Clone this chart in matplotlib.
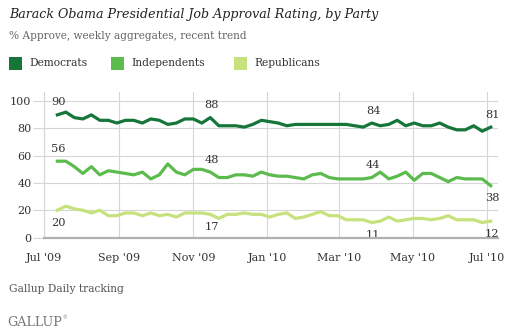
import matplotlib
matplotlib.use("Agg")
import matplotlib.pyplot as plt
from matplotlib.patches import Rectangle
import pandas as pd

# weekly aggregates, week ending Sunday
weeks = pd.date_range("2009-07-12", periods=52, freq="7D")

democrats = [90, 92, 88, 87, 90, 86, 86, 84, 86, 86, 84, 87, 86,
             83, 84, 87, 87, 84, 88, 82, 82, 82, 81, 83,
             86, 85, 84, 82, 83, 83, 83, 83, 83, 83, 83, 82, 81,
             84, 82, 83, 86, 82, 84, 82, 82, 84, 81, 79, 79, 82, 78, 81]
independents = [56, 56, 52, 47, 52, 46, 49, 48, 47, 46, 48, 43, 46,
                54, 48, 46, 50, 50, 48, 44, 44, 46, 46, 45,
                48, 46, 45, 45, 44, 43, 46, 47, 44, 43, 43, 43, 43, 44, 48,
                43, 45, 48, 42, 47, 47, 44, 41, 44, 43, 43, 43, 38]
republicans = [20, 23, 21, 20, 18, 20, 16, 16, 18, 18, 16, 18, 16,
               17, 15, 18, 18, 18, 17, 14, 17, 17, 18, 17,
               17, 15, 17, 18, 14, 15, 17, 19, 16, 16, 13, 13, 13,
               11, 12, 15, 12, 13, 14, 14, 13, 14, 16, 13, 13, 13, 11, 12]

series_names = ["Democrats", "Independents", "Republicans"]
colors = ["#16763a", "#5cbb4d", "#c6e27c"]

# which weeks get a value label, and whether it sits above or below the line
label_weeks = [0, 18, 37, 51]
label_side = {"Democrats": 1, "Independents": 1, "Republicans": -1}

tick_dates = pd.date_range("2009-07-01", periods=7, freq="2MS")
tick_labels = ["Jul '09", "Sep '09", "Nov '09", "Jan '10", "Mar '10", "May '10", "Jul '10"]

W, H = 513, 333
serif = "DejaVu Serif"
grid_col = "#d6d6d6"
text_col = "#333333"

fig = plt.figure(figsize=(W / 100, H / 100), dpi=100)


def fx(px):
    return px / W


def fy(py):
    return 1 - py / H


ax = fig.add_axes([fx(44), fy(237.5), fx(498) - fx(44), fy(91.7) - fy(237.5)])

for name, vals, c in zip(series_names, [democrats, independents, republicans], colors):
    ax.plot(weeks, vals, color=c, lw=2.3, solid_joinstyle="round", zorder=3)
    side = label_side[name]
    # last Independents label sits under the line
    side_map = {51: -1} if name == "Independents" else {}
    for k in label_weeks:
        s = side_map.get(k, side)
        ax.annotate(str(vals[k]), (weeks[k], vals[k]), xytext=(1, 9 * s),
                    textcoords="offset points", ha="center", va="center",
                    fontsize=8.2, color=text_col, family=serif, zorder=4)

ax.set_xlim(pd.Timestamp("2009-07-01"), pd.Timestamp("2010-07-10"))
ax.set_ylim(0, 107)
ax.set_yticks(range(0, 101, 20))
ax.set_xticks(tick_dates)
ax.set_xticklabels(tick_labels)

ax.grid(True, color=grid_col, lw=0.8, zorder=0)
for s in ["top", "right"]:
    ax.spines[s].set_visible(False)
ax.spines["left"].set_color(grid_col)
ax.spines["left"].set_linewidth(0.8)
ax.spines["bottom"].set_color("#b0b0b0")
ax.spines["bottom"].set_linewidth(1.6)
ax.spines["bottom"].set_zorder(5)

ax.tick_params(axis="y", length=8, width=0.8, color=grid_col, pad=1,
               labelsize=8, labelcolor=text_col)
ax.tick_params(axis="x", length=0, pad=11, labelsize=8, labelcolor=text_col)
for lab in ax.get_xticklabels() + ax.get_yticklabels():
    lab.set_family(serif)

# header
fig.text(fx(9), fy(14.5), "Barack Obama Presidential Job Approval Rating, by Party",
         fontsize=9.1, style="italic", family=serif, color="#222222", va="center")
fig.text(fx(9), fy(36), "% Approve, weekly aggregates, recent trend",
         fontsize=7.6, family=serif, color="#666666", va="center")

# legend
leg_x = [9, 111, 234]
for x0, name, c in zip(leg_x, series_names, colors):
    fig.add_artist(Rectangle((fx(x0), fy(70)), fx(13), fy(57) - fy(70),
                             transform=fig.transFigure, facecolor=c, edgecolor="none"))
    fig.text(fx(x0 + 20), fy(63.5), name, fontsize=7.7, family=serif,
             color=text_col, va="center")

# footer
fig.text(fx(9), fy(288.5), "Gallup Daily tracking", fontsize=7.7, family=serif,
         color="#555555", va="center")
fig.text(fx(7), fy(322.5), "GALLUP", fontsize=9.2, family=serif, color="#777777", va="center")
fig.text(fx(62), fy(318), "\u00ae", fontsize=3.5, family=serif, color="#777777", va="center")

fig.savefig("out.png", dpi=100)
